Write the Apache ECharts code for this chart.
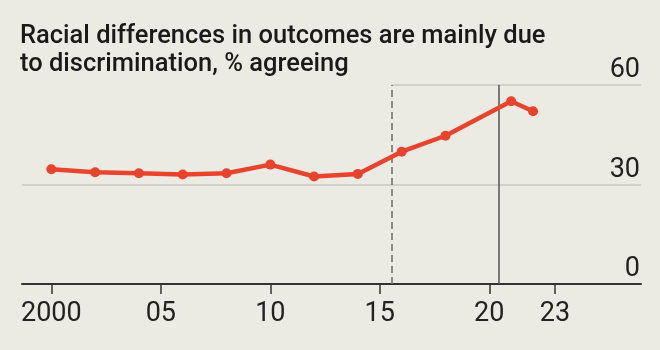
<!DOCTYPE html>
<html>
<head>
<meta charset="utf-8">
<script src="https://cdn.jsdelivr.net/npm/echarts@6/dist/echarts.min.js"></script>
<style>
  html, body { margin: 0; padding: 0; background: #ecebe3; }
  #chart { width: 660px; height: 350px; }
</style>
</head>
<body>
<div id="chart"></div>
<script>
const years = [2000, 2002, 2004, 2006, 2008, 2010, 2012, 2014, 2016, 2018, 2021, 2022];
const values = [34.6, 33.7, 33.4, 33.0, 33.4, 36.0, 32.4, 33.2, 39.9, 44.7, 55.1, 52.1];
const tickYears = [2000, 2005, 2010, 2015, 2020, 2023];
const tickLabels = ['2000', '05', '10', '15', '20', '23'];
const yTicks = [0, 30, 60];
const dashedEventYear = 2015.53;
const solidEventYear = 2020.44;
const xMin = 1998.66;
const xMax = 2026.93;
const titleText = 'Racial differences in outcomes are mainly due\nto discrimination, % agreeing';

const chart = echarts.init(document.getElementById('chart'));
chart.setOption({
  backgroundColor: '#ecebe3',
  animation: false,
  title: {
    text: titleText,
    left: 20,
    top: 22,
    padding: 0,
    textStyle: {
      fontFamily: 'Roboto',
      fontSize: 25.5,
      fontWeight: 500,
      lineHeight: 28.5,
      color: '#1a1a1a'
    }
  },
  grid: { left: 22, right: 19, top: 85, bottom: 66 },
  xAxis: {
    type: 'value',
    min: xMin,
    max: xMax,
    axisLine: { show: true, lineStyle: { color: '#333', width: 2 } },
    axisTick: {
      show: true,
      customValues: tickYears,
      length: 10,
      lineStyle: { color: '#333', width: 1.5 }
    },
    axisLabel: {
      customValues: tickYears,
      margin: 17,
      fontFamily: 'Roboto',
      fontSize: 27,
      color: '#222',
      formatter: function (v) {
        const i = tickYears.indexOf(Math.round(v));
        return i >= 0 ? tickLabels[i] : '';
      }
    },
    splitLine: { show: false }
  },
  yAxis: {
    type: 'value',
    position: 'right',
    min: yTicks[0],
    max: yTicks[yTicks.length - 1],
    interval: 30,
    axisLine: { show: false },
    axisTick: { show: false },
    splitLine: { show: false },
    axisLabel: {
      inside: true,
      margin: 1,
      verticalAlign: 'bottom',
      padding: [0, 0, 1, 0],
      fontFamily: 'Roboto',
      fontSize: 27,
      color: '#222'
    }
  },
  series: [
    {
      type: 'line',
      z: 1,
      data: [],
      silent: true,
      markLine: {
        silent: true,
        symbol: 'none',
        label: { show: false },
        animation: false,
        data: [
          { yAxis: yTicks[1], lineStyle: { color: '#c9c8c0', width: 1.5, type: 'solid' } },
          [
            { coord: [dashedEventYear, yTicks[2]], lineStyle: { color: '#c9c8c0', width: 1.5, type: 'solid' } },
            { coord: [xMax, yTicks[2]] }
          ],
          { xAxis: dashedEventYear, lineStyle: { color: '#6a6a6a', width: 1.5, type: [7, 4] } },
          { xAxis: solidEventYear, lineStyle: { color: '#555', width: 1.5, type: 'solid' } }
        ]
      }
    },
    {
      type: 'line',
      z: 5,
      data: years.map((y, i) => [y, values[i]]),
      symbol: 'circle',
      symbolSize: 10,
      lineStyle: { color: '#e8432d', width: 4.5 },
      itemStyle: { color: '#e8432d' }
    }
  ]
});
</script>
</body>
</html>
